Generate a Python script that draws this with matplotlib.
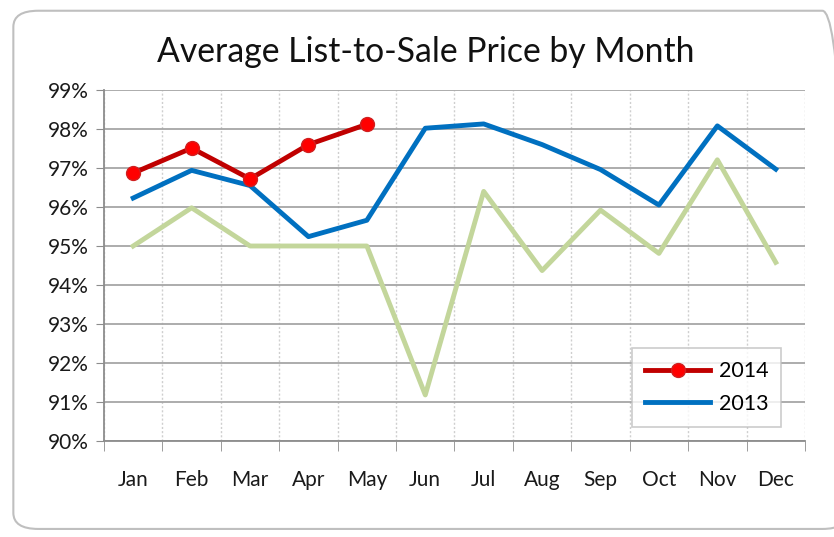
import matplotlib.pyplot as plt
import numpy as np
from matplotlib.patches import FancyBboxPatch
from matplotlib.ticker import FixedLocator, FuncFormatter

# values (percent)
months = ["Jan", "Feb", "Mar", "Apr", "May", "Jun",
          "Jul", "Aug", "Sep", "Oct", "Nov", "Dec"]
y2014 = [96.87, 97.51, 96.72, 97.60, 98.12]
y2013 = [96.23, 96.94, 96.55, 95.24, 95.66, 98.02,
         98.13, 97.60, 96.96, 96.05, 98.08, 96.97]
y2012 = [95.00, 95.98, 95.00, 95.00, 95.00, 91.18,
         96.40, 94.37, 95.92, 94.81, 97.21, 94.58]

plt.rcParams['font.family'] = ['Lato', 'DejaVu Sans']

fig = plt.figure(figsize=(8.34, 5.37), dpi=100)
fig.patch.set_facecolor('white')

# rounded chart border, kept behind the axes
border = FancyBboxPatch((0.016, 0.015), 1.0, 0.965,
                        boxstyle="round,pad=0,rounding_size=0.03",
                        transform=fig.transFigure, facecolor='none',
                        edgecolor='#bfbfbf', linewidth=1.5, zorder=-1)
fig.patches.append(border)

ax = fig.add_axes([0.1247, 0.1788, 0.8405, 0.6536])
ax.set_facecolor('none')

x = np.arange(len(months))
ax.plot(x, y2012, color='#c3d69b', lw=3.5, zorder=3)
ax.plot(x, y2013, color='#0070c0', lw=3.5, label='2013', zorder=4)
ax.plot(x[:len(y2014)], y2014, color='#c00000', lw=3.5, marker='o',
        markersize=10, markerfacecolor='#ff0000', markeredgecolor='#d02020',
        markeredgewidth=1, label='2014', zorder=5)

ax.set_xlim(-0.5, len(months) - 0.5)
ax.set_ylim(90, 99)

ax.set_yticks(np.arange(90, 100, 1))
ax.yaxis.set_major_formatter(FuncFormatter(lambda v, p: f"{v:.0f}%"))
ax.set_xticks(x)
ax.set_xticklabels(months)
ax.xaxis.set_minor_locator(FixedLocator(np.arange(-0.5, len(months), 1)))

ax.tick_params(axis='y', which='major', length=6, color='#8c8c8c',
               labelsize=15, labelcolor='#1a1a1a', pad=5)
ax.tick_params(axis='x', which='major', length=0, labelsize=15,
               labelcolor='#1a1a1a', pad=21)
ax.tick_params(axis='x', which='minor', length=7, color='#8c8c8c')

ax.grid(axis='y', which='major', color='#a6a6a6', lw=1.3)
ax.grid(axis='x', which='minor', color='#cfcfcf', lw=1, ls=(0, (1.5, 1.5)))
ax.set_axisbelow(True)

for s in ['top', 'right']:
    ax.spines[s].set_visible(False)
for s in ['left', 'bottom']:
    ax.spines[s].set_color('#8c8c8c')
    ax.spines[s].set_linewidth(1.3)

handles, labels = ax.get_legend_handles_labels()
leg = ax.legend(handles[::-1], labels[::-1], loc='lower right',
                bbox_to_anchor=(0.966, 0.04), fontsize=15.5, frameon=True,
                fancybox=False, edgecolor='#bfbfbf', handlelength=3.0,
                handletextpad=0.4, borderpad=0.6, labelspacing=0.6,
                borderaxespad=0)
leg._legend_box.align = 'left'
leg.get_frame().set_linewidth(1.2)

fig.text(0.51, 0.903, "Average List-to-Sale Price by Month", ha='center',
         va='center', fontsize=24.3, color='#111111')

fig.savefig('out.png', dpi=100, facecolor=fig.get_facecolor())
